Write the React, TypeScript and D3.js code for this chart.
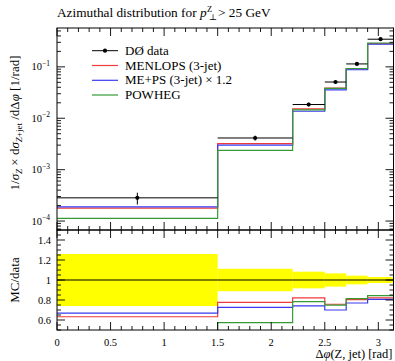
import React from "react";
import * as d3 from "d3";

// bin edges in delta phi
const binEdges = [0, 1.5, 2.2, 2.5, 2.7, 2.9, Math.PI];
// D0 data and relative errors
const dataValues = [2.83e-4, 4.13e-3, 1.85e-2, 5.07e-2, 0.114, 0.345];
const dataRelErr = [0.26, 0.112, 0.083, 0.066, 0.043, 0.03];
// MC predictions
const menlops = [1.79e-4, 3.21e-3, 1.52e-2, 3.84e-2, 9.17e-2, 0.283];
const meps = [1.89e-4, 3.0e-3, 1.37e-2, 3.55e-2, 8.78e-2, 0.278];
const powheg = [1.13e-4, 2.37e-3, 1.45e-2, 3.8e-2, 9.28e-2, 0.291];

const xTicks = [0, 0.5, 1, 1.5, 2, 2.5, 3];
const ratioTicks = [0.6, 0.8, 1, 1.2, 1.4];
const logTicks = [1e-4, 1e-3, 1e-2, 1e-1];
const logTickExp = ["−4", "−3", "−2", "−1"];

const series = [
  { name: "MENLOPS (3-jet)", values: menlops, color: "#ef3a3a" },
  { name: "ME+PS (3-jet) × 1.2", values: meps, color: "#3a3aef" },
  { name: "POWHEG", values: powheg, color: "#349a34" },
];

const font = "'Liberation Serif', 'DejaVu Serif', serif";

export default function App() {
  const width = 395;
  const height = 361;
  const left = 57;
  const right = 393.5;
  const top = 28;
  const mid = 230;
  const bottom = 330;

  const x = d3.scaleLinear().domain([0, Math.PI]).range([left, right]);
  const y = d3.scaleLog().domain([6.7e-5, 0.57]).range([mid, top]);
  const yr = d3.scaleLinear().domain([0.5, 1.5]).range([bottom, mid]);

  const stepPoints = (vals: number[]) =>
    vals.flatMap((v, i) => [
      [binEdges[i], v],
      [binEdges[i + 1], v],
    ]);

  const upperLine = d3
    .line<number[]>()
    .x((d) => x(d[0]))
    .y((d) => y(d[1]));
  const ratioLine = d3
    .line<number[]>()
    .x((d) => x(d[0]))
    .y((d) => yr(d[1]));

  const xMinor = d3.range(0, 31).map((i) => i / 10).filter((t) => Math.abs(t * 2 - Math.round(t * 2)) > 1e-6);
  const logMinor: number[] = [];
  for (let e = -5; e <= 0; e++) {
    for (let m = 2; m <= 9; m++) {
      const v = m * Math.pow(10, e);
      if (v > 6.7e-5 && v < 0.57) logMinor.push(v);
    }
  }
  const ratioMinor = d3
    .range(10, 31)
    .map((i) => i * 0.05)
    .filter((t) => Math.abs(t * 5 - Math.round(t * 5)) > 1e-6);

  const majorLen = 8;
  const minorLen = 4;

  const xTickMarks = (yy: number, dir: number, keyp: string) => (
    <g key={keyp}>
      {xTicks.map((t) => (
        <line key={`M${t}`} x1={x(t)} x2={x(t)} y1={yy} y2={yy + dir * majorLen} stroke="#000" strokeWidth={0.9} />
      ))}
      {xMinor.map((t) => (
        <line key={`m${t}`} x1={x(t)} x2={x(t)} y1={yy} y2={yy + dir * minorLen} stroke="#000" strokeWidth={0.9} />
      ))}
    </g>
  );

  const legendY = [50.7, 65.5, 80.3, 95];

  return (
    <svg width={width} height={height} style={{ position: "absolute", left: 0, top: 0 }} fontFamily={font}>
      <defs>
        <clipPath id="clipUpper">
          <rect x={left} y={top} width={right - left} height={mid - top} />
        </clipPath>
        <clipPath id="clipRatio">
          <rect x={left} y={mid} width={right - left} height={bottom - mid} />
        </clipPath>
      </defs>
      <rect width={width} height={height} fill="#fff" />

      {/* Title */}
      <text x={left} y={17} fontSize={13.3}>
        Azimuthal distribution for <tspan fontStyle="italic">p</tspan>
        <tspan fontSize={8.5} dy={-5.5} dx={0.5}>Z</tspan>
      </text>
      <text x={209} y={20} fontSize={8.5}>⊥</text>
      <text x={218} y={17} fontSize={13.3}>&gt; 25 GeV</text>

      {/* Upper panel */}
      <g clipPath="url(#clipUpper)">
        {series.map((s) => (
          <path key={s.name} d={upperLine(stepPoints(s.values)) || ""} fill="none" stroke={s.color} strokeWidth={1.2} />
        ))}
        {dataValues.map((v, i) => {
          const cx = x((binEdges[i] + binEdges[i + 1]) / 2);
          return (
            <g key={i}>
              <line x1={x(binEdges[i])} x2={x(binEdges[i + 1])} y1={y(v)} y2={y(v)} stroke="#000" strokeWidth={1} />
              <line x1={cx} x2={cx} y1={y(v * (1 - dataRelErr[i]))} y2={y(v * (1 + dataRelErr[i]))} stroke="#000" strokeWidth={1} />
              <circle cx={cx} cy={y(v)} r={2.1} fill="#000" />
            </g>
          );
        })}
      </g>

      {/* Ratio panel */}
      <g clipPath="url(#clipRatio)">
        {dataRelErr.map((e, i) => (
          <rect
            key={i}
            x={x(binEdges[i])}
            width={x(binEdges[i + 1]) - x(binEdges[i])}
            y={yr(1 + e)}
            height={yr(1 - e) - yr(1 + e)}
            fill="#ffff00"
          />
        ))}
        <line x1={left} x2={right} y1={yr(1)} y2={yr(1)} stroke="#000" strokeWidth={1} />
        {series.map((s) => (
          <path
            key={s.name}
            d={ratioLine(stepPoints(s.values.map((v, i) => v / dataValues[i]))) || ""}
            fill="none"
            stroke={s.color}
            strokeWidth={1.2}
          />
        ))}
      </g>

      {/* Frames */}
      <rect x={left} y={top} width={right - left} height={mid - top} fill="none" stroke="#000" strokeWidth={1} />
      <rect x={left} y={mid} width={right - left} height={bottom - mid} fill="none" stroke="#000" strokeWidth={1} />

      {/* x ticks */}
      {xTickMarks(top, 1, "t1")}
      {xTickMarks(mid, -1, "t2")}
      {xTickMarks(mid, 1, "t3")}
      {xTickMarks(bottom, -1, "t4")}

      {/* log y ticks */}
      {logTicks.map((t) => (
        <g key={t}>
          <line x1={left} x2={left + majorLen} y1={y(t)} y2={y(t)} stroke="#000" strokeWidth={0.9} />
          <line x1={right} x2={right - majorLen} y1={y(t)} y2={y(t)} stroke="#000" strokeWidth={0.9} />
        </g>
      ))}
      {logMinor.map((t) => (
        <g key={t}>
          <line x1={left} x2={left + minorLen} y1={y(t)} y2={y(t)} stroke="#000" strokeWidth={0.9} />
          <line x1={right} x2={right - minorLen} y1={y(t)} y2={y(t)} stroke="#000" strokeWidth={0.9} />
        </g>
      ))}
      {logTicks.map((t, i) => (
        <text key={t} x={50} y={y(t) + 3.5} fontSize={10.5} textAnchor="end">
          10<tspan fontSize={7.5} dy={-4.5}>{logTickExp[i]}</tspan>
        </text>
      ))}

      {/* ratio y ticks */}
      {ratioTicks.map((t) => (
        <g key={t}>
          <line x1={left} x2={left + majorLen} y1={yr(t)} y2={yr(t)} stroke="#000" strokeWidth={0.9} />
          <line x1={right} x2={right - majorLen} y1={yr(t)} y2={yr(t)} stroke="#000" strokeWidth={0.9} />
          <text x={51} y={yr(t) + 3.5} fontSize={10.5} textAnchor="end">
            {t}
          </text>
        </g>
      ))}
      {ratioMinor.map((t) => (
        <g key={t}>
          <line x1={left} x2={left + minorLen} y1={yr(t)} y2={yr(t)} stroke="#000" strokeWidth={0.9} />
          <line x1={right} x2={right - minorLen} y1={yr(t)} y2={yr(t)} stroke="#000" strokeWidth={0.9} />
        </g>
      ))}

      {/* x tick labels */}
      {xTicks.map((t) => (
        <text key={t} x={x(t)} y={346} fontSize={10.5} textAnchor="middle">
          {t}
        </text>
      ))}
      <text x={right - 1} y={358} fontSize={12.5} textAnchor="end">
        Δ<tspan fontStyle="italic">φ</tspan>(Z, jet) [rad]
      </text>

      {/* y axis labels */}
      <text transform={`translate(19, ${(top + mid) / 2 - 6}) rotate(-90)`} fontSize={13} textAnchor="middle">
        1/<tspan fontStyle="italic">σ</tspan>
        <tspan fontSize={9} dy={2.5} fontStyle="italic">Z</tspan>
        <tspan dy={-2.5}> × d</tspan>
        <tspan fontStyle="italic">σ</tspan>
        <tspan fontSize={9} dy={2.5}>
          <tspan fontStyle="italic">Z</tspan>+jet
        </tspan>
        <tspan dy={-2.5}> /dΔ</tspan>
        <tspan fontStyle="italic">φ</tspan> [1/rad]
      </text>
      <text transform={`translate(19, ${(mid + bottom) / 2}) rotate(-90)`} fontSize={13} textAnchor="middle">
        MC/data
      </text>

      {/* Legend */}
      <g>
        <line x1={92} x2={118} y1={legendY[0]} y2={legendY[0]} stroke="#000" strokeWidth={1} />
        <circle cx={105} cy={legendY[0]} r={2.1} fill="#000" />
        <text x={125} y={legendY[0] + 4} fontSize={13}>
          DØ data
        </text>
        {series.map((s, i) => (
          <g key={s.name}>
            <line x1={92} x2={118} y1={legendY[i + 1]} y2={legendY[i + 1]} stroke={s.color} strokeWidth={1.2} />
            <text x={125} y={legendY[i + 1] + 4} fontSize={13}>
              {s.name}
            </text>
          </g>
        ))}
      </g>
    </svg>
  );
}
